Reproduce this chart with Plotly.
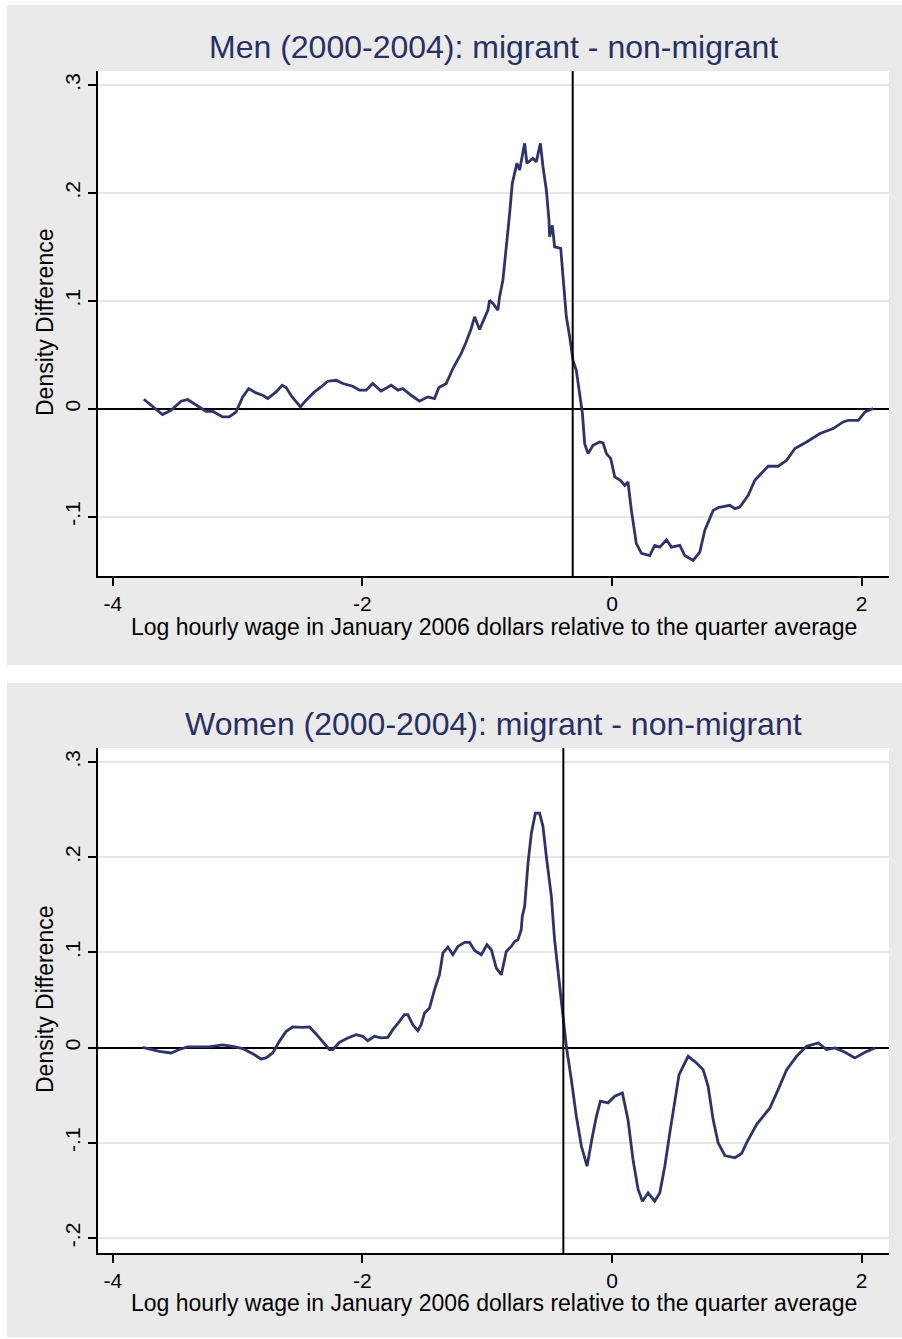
import plotly.graph_objects as go

# ---------------- data ----------------
men_x = [-3.751, -3.681, -3.601, -3.533, -3.453, -3.40, -3.333, -3.253, -3.20, -3.12,
         -3.066, -3.012, -2.959, -2.911, -2.852, -2.799, -2.758, -2.691, -2.643, -2.611,
         -2.563, -2.496, -2.451, -2.384, -2.331, -2.278, -2.21, -2.157, -2.077, -2.023,
         -1.97, -1.917, -1.85, -1.769, -1.716, -1.676, -1.609, -1.542, -1.476, -1.422,
         -1.387, -1.328, -1.275, -1.208, -1.168, -1.128, -1.101, -1.061, -1.035, -0.994,
         -0.981, -0.954, -0.914, -0.901, -0.874, -0.847, -0.82, -0.799, -0.762, -0.74,
         -0.70, -0.682, -0.634, -0.606, -0.574, -0.553, -0.526, -0.505, -0.50, -0.478,
         -0.46, -0.411, -0.393, -0.366, -0.339, -0.313, -0.286, -0.259, -0.237, -0.219,
         -0.192, -0.152, -0.099, -0.072, -0.045, -0.01, 0.022, 0.067, 0.102, 0.128,
         0.155, 0.195, 0.236, 0.302, 0.342, 0.383, 0.436, 0.476, 0.543, 0.583,
         0.65, 0.703, 0.743, 0.81, 0.85, 0.944, 0.984, 1.024, 1.091, 1.144,
         1.198, 1.251, 1.331, 1.399, 1.465, 1.559, 1.666, 1.772, 1.852, 1.893,
         1.973, 2.027, 2.093]
men_y = [0.0088, 0.0023, -0.0054, -0.0014, 0.007, 0.0085, 0.0032, -0.0023, -0.0023, -0.0076,
         -0.0076, -0.003, 0.011, 0.0187, 0.0147, 0.0125, 0.0095, 0.0156, 0.0218, 0.0197,
         0.011, 0.0017, 0.0079, 0.0156, 0.0202, 0.0255, 0.0264, 0.0234, 0.0209, 0.0172,
         0.0172, 0.0234, 0.0165, 0.0218, 0.0172, 0.0187, 0.0125, 0.007, 0.011, 0.0095,
         0.0197, 0.0234, 0.0373, 0.0512, 0.062, 0.0744, 0.0852, 0.0735, 0.0805, 0.0914,
         0.1006, 0.0976, 0.0914, 0.1037, 0.1192, 0.147, 0.181, 0.2089, 0.2275, 0.2212,
         0.246, 0.2275, 0.232, 0.229, 0.246, 0.2243, 0.2027, 0.1749, 0.1594, 0.170,
         0.150, 0.1486, 0.1223, 0.0852, 0.0666, 0.045, 0.0357, 0.0141, -0.0045, -0.0323,
         -0.0416, -0.0339, -0.0308, -0.0317, -0.0416, -0.0462, -0.0632, -0.0663, -0.071, -0.0679,
         -0.0942, -0.125, -0.134, -0.136, -0.1266, -0.1282, -0.1214, -0.1282, -0.1266, -0.136,
         -0.1405, -0.1328, -0.1127, -0.0942, -0.0917, -0.0895, -0.0926, -0.0911, -0.0802, -0.0663,
         -0.0601, -0.0533, -0.0533, -0.0478, -0.0369, -0.0308, -0.023, -0.0184, -0.0122, -0.0107,
         -0.0107, -0.003, 0.0002]

women_x = [-3.761, -3.681, -3.627, -3.533, -3.467, -3.40, -3.306, -3.226, -3.12, -3.039,
           -2.959, -2.879, -2.812, -2.772, -2.719, -2.665, -2.611, -2.558, -2.478, -2.424,
           -2.371, -2.318, -2.264, -2.237, -2.184, -2.117, -2.05, -1.997, -1.957, -1.903,
           -1.85, -1.796, -1.756, -1.703, -1.663, -1.636, -1.596, -1.556, -1.529, -1.502,
           -1.462, -1.422, -1.382, -1.355, -1.315, -1.275, -1.235, -1.181, -1.141, -1.101,
           -1.047, -1.002, -0.967, -0.927, -0.887, -0.847, -0.807, -0.78, -0.754, -0.727,
           -0.719, -0.70, -0.673, -0.646, -0.614, -0.58, -0.553, -0.526, -0.486, -0.46,
           -0.433, -0.406, -0.387, -0.366, -0.326, -0.286, -0.245, -0.20, -0.157, -0.125,
           -0.093, -0.032, 0.022, 0.083, 0.128, 0.168, 0.209, 0.244, 0.289, 0.342,
           0.383, 0.423, 0.463, 0.503, 0.537, 0.61, 0.677, 0.73, 0.77, 0.81,
           0.85, 0.904, 0.984, 1.038, 1.078, 1.158, 1.265, 1.331, 1.399, 1.479,
           1.559, 1.652, 1.719, 1.786, 1.866, 1.946, 2.027, 2.107]
women_y = [0.0003, -0.002, -0.0039, -0.0056, -0.002, 0.0007, 0.0007, 0.0007, 0.0028, 0.0014,
           -0.001, -0.0063, -0.0119, -0.0108, -0.0056, 0.0066, 0.0171, 0.0217, 0.0213, 0.0217,
           0.0144, 0.0066, -0.002, -0.002, 0.0056, 0.0102, 0.0136, 0.0119, 0.0073, 0.0119,
           0.0102, 0.0108, 0.0189, 0.0276, 0.0346, 0.0346, 0.0241, 0.0178, 0.0241, 0.0364,
           0.0417, 0.0609, 0.0766, 0.0994, 0.1057, 0.0976, 0.1063, 0.1105, 0.1105, 0.1021,
           0.0976, 0.1081, 0.1028, 0.0836, 0.0766, 0.1010, 0.1063, 0.1115, 0.1133, 0.1238,
           0.1378, 0.1483, 0.1938, 0.2253, 0.2463, 0.2463, 0.2322, 0.2007, 0.1588, 0.1133,
           0.0818, 0.0538, 0.0259, 0.0014, -0.0336, -0.0721, -0.1036, -0.1245, -0.0931, -0.0721,
           -0.0563, -0.058, -0.0511, -0.0476, -0.0756, -0.1175, -0.149, -0.1613, -0.1525, -0.1613,
           -0.1525, -0.1245, -0.0895, -0.0546, -0.0283, -0.0091, -0.0161, -0.0231, -0.0406, -0.0756,
           -0.1, -0.1133, -0.1157, -0.1112, -0.1, -0.0808, -0.0633, -0.0441, -0.0231, -0.0091,
           0.0014, 0.0049, -0.002, -0.0003, -0.0049, -0.0108, -0.0049, -0.0003]

men_vline = -0.315
women_vline = -0.39

x_tickvals = [-4, -2, 0, 2]
x_ticktext = ["-4", "-2", "0", "2"]
men_ytickvals = [-0.1, 0, 0.1, 0.2, 0.3]
men_yticktext = ["-.1", "0", ".1", ".2", ".3"]
women_ytickvals = [-0.2, -0.1, 0, 0.1, 0.2, 0.3]
women_yticktext = ["-.2", "-.1", "0", ".1", ".2", ".3"]

titles = ["Men (2000-2004): migrant - non-migrant",
          "Women (2000-2004): migrant - non-migrant"]
x_title = "Log hourly wage in January 2006 dollars relative to the quarter average"
y_title = "Density Difference"

# ---------------- styling ----------------
W, H = 902, 1339
FONT = "Liberation Sans, Arial, sans-serif"
LINE_COLOR = "#2e3369"
TITLE_COLOR = "#283063"
PANEL_BG = "#eaeaea"
GRID = "#e6e6e6"

def py(p):
    return 1 - p / H

def px(p):
    return p / W

fig = go.Figure()
fig.add_trace(go.Scatter(x=men_x, y=men_y, mode="lines", xaxis="x", yaxis="y",
                         line=dict(color=LINE_COLOR, width=2.8), showlegend=False))
fig.add_trace(go.Scatter(x=women_x, y=women_y, mode="lines", xaxis="x2", yaxis="y2",
                         line=dict(color=LINE_COLOR, width=2.8), showlegend=False))

xdom = [px(98), px(889)]
top_dom = [py(576), py(71)]
bot_dom = [py(1253), py(748)]

common_x = dict(range=[-4.118, 2.219], tickvals=x_tickvals, ticktext=x_ticktext,
                showgrid=False, zeroline=False, showline=True, linecolor="black", linewidth=1.8,
                ticks="outside", ticklen=8, tickwidth=1.5, tickcolor="black",
                tickfont=dict(family=FONT, size=21, color="black"))
common_y = dict(showgrid=True, gridcolor=GRID, gridwidth=2,
                zeroline=True, zerolinecolor="black", zerolinewidth=2,
                showline=True, linecolor="black", linewidth=1.8,
                ticks="outside", ticklen=8, tickwidth=1.5, tickcolor="black", tickangle=-90,
                tickfont=dict(family=FONT, size=21, color="black"))

fig.update_layout(
    width=W, height=H,
    margin=dict(l=0, r=0, t=0, b=0),
    paper_bgcolor=PANEL_BG, plot_bgcolor="white",
    xaxis=dict(domain=xdom, anchor="y", **common_x),
    yaxis=dict(domain=top_dom, anchor="x", range=[-0.155, 0.313],
               tickvals=men_ytickvals, ticktext=men_yticktext, **common_y),
    xaxis2=dict(domain=xdom, anchor="y2", **common_x),
    yaxis2=dict(domain=bot_dom, anchor="x2", range=[-0.2157, 0.3147],
                tickvals=women_ytickvals, ticktext=women_yticktext, **common_y),
)

white = dict(fillcolor="white", line=dict(width=0), layer="below",
             type="rect", xref="paper", yref="paper")
shapes = [
    dict(x0=0, x1=1, y0=py(683), y1=py(665), **white),   # gap between panels
    dict(x0=0, x1=px(7), y0=0, y1=1, **white),           # left strip
    dict(x0=0, x1=1, y0=py(5), y1=1, **white),            # top strip
    dict(x0=0, x1=1, y0=0, y1=py(1337), **white),         # bottom strip
    dict(type="line", xref="x", yref="y domain", x0=men_vline, x1=men_vline, y0=0, y1=1,
         line=dict(color="black", width=2)),
    dict(type="line", xref="x2", yref="y2 domain", x0=women_vline, x1=women_vline, y0=0, y1=1,
         line=dict(color="black", width=2)),
]
fig.update_layout(shapes=shapes)

cx = px(493.5)
ann = []
for t, ypix in zip(titles, [47, 724]):
    ann.append(dict(text=t, xref="paper", yref="paper", x=cx, y=py(ypix),
                    xanchor="center", yanchor="middle", showarrow=False,
                    font=dict(family=FONT, size=32, color=TITLE_COLOR)))
for ypix in [627, 1303]:
    ann.append(dict(text=x_title, xref="paper", yref="paper", x=cx, y=py(ypix),
                    xanchor="center", yanchor="middle", showarrow=False,
                    font=dict(family=FONT, size=23, color="black")))
for ypix in [322, 999]:
    ann.append(dict(text=y_title, xref="paper", yref="paper", x=px(45), y=py(ypix),
                    xanchor="center", yanchor="middle", showarrow=False, textangle=-90,
                    font=dict(family=FONT, size=23, color="black")))
fig.update_layout(annotations=ann)

fig.write_html("out.html",
               config={"displayModeBar": False},
               post_script="document.body.style.margin='0px';document.body.style.overflow='hidden';")
